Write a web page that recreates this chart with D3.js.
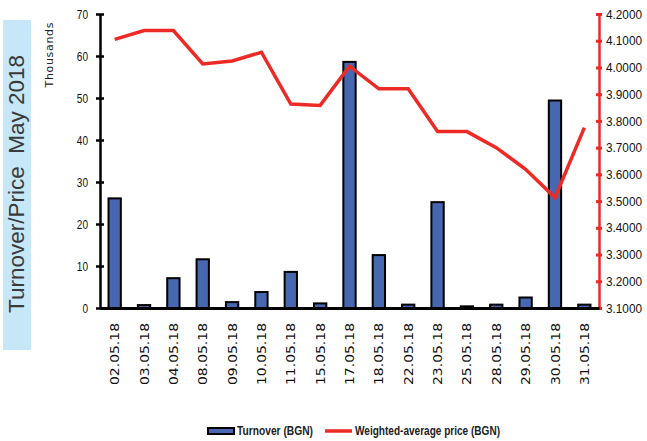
<!DOCTYPE html>
<html><head><meta charset="utf-8">
<script src="https://cdn.jsdelivr.net/npm/d3@7"></script>
<style>body{margin:0;background:#fff;} svg{display:block;}</style>
</head><body>
<svg id="chart" width="647" height="441"></svg>
<script>
const categories = ["02.05.18","03.05.18","04.05.18","08.05.18","09.05.18","10.05.18","11.05.18","15.05.18","17.05.18","18.05.18","22.05.18","23.05.18","25.05.18","28.05.18","29.05.18","30.05.18","31.05.18"];
const turnover = [26.1,0.7,7.1,11.6,1.4,3.8,8.6,1.1,58.6,12.6,0.8,25.2,0.4,0.8,2.5,49.4,0.8];
const price = [4.105,4.138,4.138,4.013,4.024,4.057,3.863,3.858,4.005,3.920,3.920,3.760,3.760,3.700,3.619,3.513,3.775];
const leftTicks = [0,10,20,30,40,50,60,70];
const rightTicks = [3.1,3.2,3.3,3.4,3.5,3.6,3.7,3.8,3.9,4.0,4.1,4.2];

const svg = d3.select("#chart");
const L = 100, R = 599, T = 14, B = 308;
const sans = "'Liberation Sans',Arial,sans-serif";

const x = d3.scaleBand().domain(categories).range([L, R]).paddingInner(0.58).paddingOuter(0.29);
const y = d3.scaleLinear().domain([0,70]).range([B, T]);
const y2 = d3.scaleLinear().domain([3.1,4.2]).range([B, T]);

// title box
svg.append("rect").attr("x",3).attr("y",20).attr("width",28).attr("height",330).attr("fill","#c6e7f7");
svg.append("text").attr("transform","translate(24,184) rotate(-90)").attr("text-anchor","middle")
  .attr("font-family",sans).attr("font-size",22).attr("fill","#3a3a3a")
  .attr("textLength",258).attr("lengthAdjust","spacingAndGlyphs")
  .style("white-space","pre").text("Turnover/Price  May 2018");

svg.append("text").attr("transform","translate(53,55) rotate(-90)").attr("text-anchor","middle")
  .attr("font-family","'DejaVu Sans',sans-serif").attr("font-size",11).attr("fill","#222")
  .attr("textLength",65).attr("lengthAdjust","spacing").text("Thousands");

// bars
svg.append("g").selectAll("rect").data(categories).join("rect")
  .attr("x", d => x(d)).attr("width", x.bandwidth())
  .attr("y", (d,i) => y(turnover[i])).attr("height", (d,i) => B - y(turnover[i]))
  .attr("fill","#4767b1").attr("stroke","#000").attr("stroke-width",2);

// line
const line = d3.line().x((d,i) => x(categories[i]) + x.bandwidth()/2).y(d => y2(d));
svg.append("path").datum(price).attr("d", line).attr("fill","none")
  .attr("stroke","#ee2a26").attr("stroke-width",3.5).attr("stroke-linejoin","miter");

// left axis
const gl = svg.append("g").attr("transform",`translate(${L},0)`)
  .call(d3.axisLeft(y).tickValues(leftTicks).tickFormat(d3.format("d")).tickSizeInner(4).tickSizeOuter(0));
gl.select(".domain").attr("stroke","#000").attr("stroke-width",2.5);
gl.selectAll(".tick line").attr("x1",-4).attr("x2",4).attr("stroke","#000").attr("stroke-width",2.5);
gl.selectAll(".tick text").attr("x",-12).attr("font-family",sans).attr("font-size",13).attr("fill","#111")
  .attr("textLength", d => String(d).length * 5.6).attr("lengthAdjust","spacingAndGlyphs");

// right axis
const gr = svg.append("g").attr("transform",`translate(${R},0)`)
  .call(d3.axisRight(y2).tickValues(rightTicks).tickFormat(d3.format(".4f")).tickSizeInner(4).tickSizeOuter(0));
gr.select(".domain").attr("stroke","#ee2a26").attr("stroke-width",2.5);
gr.selectAll(".tick line").attr("x1",-3).attr("x2",3).attr("stroke","#ee2a26").attr("stroke-width",3);
gr.selectAll(".tick text").attr("x",7).attr("font-family",sans).attr("font-size",13).attr("fill","#111")
  .attr("textLength",36).attr("lengthAdjust","spacingAndGlyphs");

// x axis
const gx = svg.append("g").attr("transform",`translate(0,${B})`)
  .call(d3.axisBottom(x).tickSize(0).tickSizeOuter(0));
gx.select(".domain").attr("stroke","#000").attr("stroke-width",3);
gx.selectAll(".tick text").attr("transform","rotate(-90)").attr("text-anchor","end")
  .attr("x",-15).attr("y",0).attr("dy","0.35em")
  .attr("font-family","'DejaVu Sans',sans-serif").attr("font-size",13).attr("fill","#111")
  .attr("textLength",62).attr("lengthAdjust","spacingAndGlyphs");

// legend
const lg = svg.append("g");
lg.append("rect").attr("x",208).attr("y",428).attr("width",26).attr("height",6).attr("fill","#4767b1").attr("stroke","#000").attr("stroke-width",2);
lg.append("text").attr("x",237).attr("y",435).attr("font-family",sans).attr("font-weight","bold").attr("font-size",12).attr("fill","#222")
  .attr("textLength",76).attr("lengthAdjust","spacingAndGlyphs").text("Turnover (BGN)");
lg.append("line").attr("x1",325).attr("x2",352).attr("y1",431).attr("y2",431).attr("stroke","#ee2a26").attr("stroke-width",3.5);
lg.append("text").attr("x",355).attr("y",435).attr("font-family",sans).attr("font-weight","bold").attr("font-size",12).attr("fill","#222")
  .attr("textLength",145).attr("lengthAdjust","spacingAndGlyphs").text("Weighted-average price (BGN)");
</script>
</body></html>
